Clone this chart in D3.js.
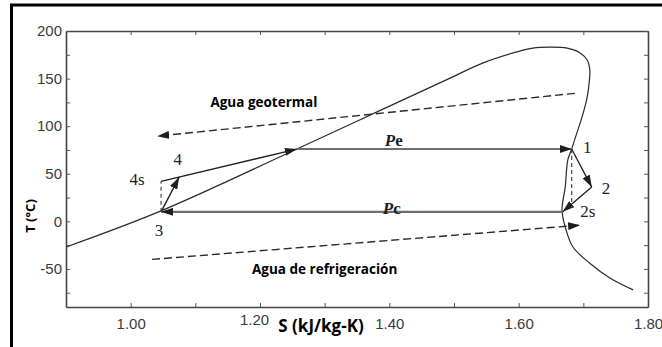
<!DOCTYPE html>
<html>
<head>
<meta charset="utf-8">
<script src="https://cdn.jsdelivr.net/npm/d3@7"></script>
<style>
  body { margin: 0; background: #fff; }
  #chart svg { display: block; }
</style>
</head>
<body>
<div id="chart"></div>
<script>
// saturation dome of the working fluid (s in kJ/kg-K, T in C)
var domeS = [0.90, 1.047, 1.257, 1.381, 1.494, 1.545, 1.597, 1.622, 1.648, 1.675, 1.695, 1.706, 1.710, 1.709, 1.706, 1.698, 1.690, 1.682, 1.676, 1.672, 1.667, 1.672, 1.684, 1.710, 1.741, 1.777];
var domeT = [-27, 11, 76, 115, 150.5, 166.5, 178, 182, 183, 182, 177, 169.5, 159, 145.5, 130.5, 109.5, 93, 76, 64.5, 36, 12, -6, -27, -44, -59.5, -72];

// cycle states ("f" = saturated liquid at Pe, "b" = foot of the 1-2s isentrope)
var stateNames = ["1", "2", "2s", "3", "4s", "4", "f", "b"];
var stateS = [1.682, 1.713, 1.668, 1.047, 1.047, 1.075, 1.257, 1.682];
var stateT = [76, 36, 10, 10, 42, 46.5, 76, 14];

// processes: from, to, kind
var procFrom = ["4s", "3", "f", "1", "2", "2s", "3", "1"];
var procTo   = ["f", "4", "1", "2", "2s", "3", "4s", "b"];
var procKind = ["solid", "solid", "pressure", "solid", "solid", "pressure", "dashed", "dashed"];

// water streams (dashed arrows)
var geoS = [1.687, 1.041];
var geoT = [134.5, 89.5];
var coolS = [1.033, 1.695];
var coolT = [-40, -4];

// ticks
var xTicks = [1.0, 1.1, 1.2, 1.3, 1.4, 1.5, 1.6, 1.7, 1.8];
var xTickLabels = [1.0, 1.2, 1.4, 1.6, 1.8];
var yTicks = [-75, -50, -25, 0, 25, 50, 75, 100, 125, 150, 175, 200];
var yTickLabels = [-50, 0, 50, 100, 150, 200];

function init() {
    var w = 662;
    var h = 347;

    var svg = d3.select("#chart")
                .append("svg")
                .attr("width", w)
                .attr("height", h);

    // outer black frame (cut by the picture edge on right and bottom)
    svg.append("rect")
        .attr("x", 11.5).attr("y", 5)
        .attr("width", 800).attr("height", 500)
        .attr("fill", "none")
        .attr("stroke", "#000")
        .attr("stroke-width", 3);

    var x = d3.scaleLinear().domain([0.9, 1.8]).range([66, 648]);
    var y = d3.scaleLinear().domain([-90, 200]).range([307, 31]);

    var defs = svg.append("defs");
    defs.append("marker")
        .attr("id", "arr")
        .attr("markerUnits", "userSpaceOnUse")
        .attr("viewBox", "0 0 12 8")
        .attr("markerWidth", 12).attr("markerHeight", 8)
        .attr("refX", 12).attr("refY", 4)
        .attr("orient", "auto")
        .append("path")
        .attr("d", "M0,0 L12,4 L0,8 Z")
        .attr("fill", "#1e1e1e");

    // axes, ticks pointing inward on all four sides
    var fmt = d3.format(".2f");
    var xAxisB = d3.axisBottom(x).tickValues(xTicks).tickSizeInner(-4).tickSizeOuter(0).tickPadding(11)
        .tickFormat(function(d) { return xTickLabels.indexOf(d) >= 0 ? fmt(d) : ""; });
    var xAxisT = d3.axisTop(x).tickValues(xTicks).tickSizeInner(-4).tickSizeOuter(0).tickFormat("");
    var yAxisL = d3.axisLeft(y).tickValues(yTicks).tickSizeInner(-4).tickSizeOuter(0).tickPadding(4)
        .tickFormat(function(d) { return yTickLabels.indexOf(d) >= 0 ? d : ""; });
    var yAxisR = d3.axisRight(y).tickValues(yTicks).tickSizeInner(-4).tickSizeOuter(0).tickFormat("");

    var gB = svg.append("g").attr("transform", "translate(0,307)").call(xAxisB);
    svg.append("g").attr("transform", "translate(0,31)").call(xAxisT);
    var gL = svg.append("g").attr("transform", "translate(66,0)").call(yAxisL);
    svg.append("g").attr("transform", "translate(648,0)").call(yAxisR);

    svg.selectAll(".domain").attr("stroke", "#444").attr("stroke-width", 1.6);
    svg.selectAll(".tick line").attr("stroke", "#555").attr("stroke-width", 1);
    svg.selectAll(".tick text")
        .attr("font-family", "'Liberation Sans', Arial, sans-serif")
        .attr("font-size", 15)
        .attr("fill", "#3a3a3a");
    // the 1.20 label sits a bit off in the original, next to the axis title
    gB.selectAll(".tick text").filter(function(d) { return d === 1.2; })
        .attr("transform", "translate(-6,-4)");

    // axis titles
    svg.append("text")
        .text("S (kJ/kg-K)")
        .attr("x", 321).attr("y", 332)
        .attr("text-anchor", "middle")
        .attr("font-family", "'Open Sans', sans-serif")
        .attr("font-weight", "bold")
        .attr("font-size", 17)
        .attr("fill", "#000");
    svg.append("text")
        .text("T (°C)")
        .attr("transform", "translate(35,216) rotate(-90)")
        .attr("text-anchor", "middle")
        .attr("font-family", "'Open Sans', sans-serif")
        .attr("font-weight", "bold")
        .attr("font-size", 13)
        .attr("fill", "#000");

    // saturation dome
    var dome = domeS.map(function(s, i) { return [s, domeT[i]]; });
    var line = d3.line()
        .x(function(d) { return x(d[0]); })
        .y(function(d) { return y(d[1]); })
        .curve(d3.curveCatmullRom.alpha(0.5));
    svg.append("path")
        .datum(dome)
        .attr("d", line)
        .attr("fill", "none")
        .attr("stroke", "#2a2a2a")
        .attr("stroke-width", 1.2);

    // water streams
    var straight = d3.line()
        .x(function(d) { return x(d[0]); })
        .y(function(d) { return y(d[1]); });
    [[geoS, geoT], [coolS, coolT]].forEach(function(st) {
        svg.append("path")
            .datum(st[0].map(function(s, i) { return [s, st[1][i]]; }))
            .attr("d", straight)
            .attr("fill", "none")
            .attr("stroke", "#2a2a2a")
            .attr("stroke-width", 1.4)
            .attr("stroke-dasharray", "8,4")
            .attr("marker-end", "url(#arr)");
    });

    // cycle processes
    function state(name) {
        var i = stateNames.indexOf(name);
        return [stateS[i], stateT[i]];
    }
    procFrom.forEach(function(a, i) {
        var kind = procKind[i];
        var p = svg.append("path")
            .datum([state(a), state(procTo[i])])
            .attr("d", straight)
            .attr("fill", "none");
        if (kind === "pressure") {
            p.attr("stroke", "#6e6e6e").attr("stroke-width", 2.2).attr("marker-end", "url(#arr)");
        } else if (kind === "dashed") {
            p.attr("stroke", "#3a3a3a").attr("stroke-width", 1.1).attr("stroke-dasharray", "4,3");
        } else {
            p.attr("stroke", "#1e1e1e").attr("stroke-width", 1.3).attr("marker-end", "url(#arr)");
        }
    });

    // state labels
    var labelNames = ["1", "2", "2s", "3", "4s", "4"];
    var labelS = [1.706, 1.735, 1.707, 1.044, 1.010, 1.073];
    var labelT = [71.8, 28.7, 4.6, -15.4, 38, 59];
    svg.selectAll("text.state")
        .data(labelNames)
        .enter()
        .append("text")
        .attr("class", "state")
        .text(function(d) { return d; })
        .attr("x", function(d, i) { return x(labelS[i]); })
        .attr("y", function(d, i) { return y(labelT[i]); })
        .attr("text-anchor", "middle")
        .attr("font-family", "'Liberation Serif', 'Times New Roman', serif")
        .attr("font-size", 17)
        .attr("fill", "#1c1c2a");

    // pressure labels
    [["e", 1.393, 79], ["c", 1.390, 8]].forEach(function(d) {
        var t = svg.append("text")
            .attr("x", x(d[1])).attr("y", y(d[2]))
            .attr("font-family", "'Liberation Serif', 'Times New Roman', serif")
            .attr("font-weight", "bold")
            .attr("font-size", 17)
            .attr("fill", "#1c1c2a");
        t.append("tspan").attr("font-style", "italic").text("P");
        t.append("tspan").text(d[0]);
    });

    // stream labels
    svg.append("text")
        .text("Agua geotermal")
        .attr("x", x(1.206)).attr("y", y(120))
        .attr("text-anchor", "middle")
        .attr("font-family", "'Open Sans', sans-serif")
        .attr("font-weight", "bold")
        .attr("font-size", 13.5)
        .attr("fill", "#000");
    svg.append("text")
        .text("Agua de refrigeración")
        .attr("x", x(1.300)).attr("y", y(-55.3))
        .attr("text-anchor", "middle")
        .attr("font-family", "'Open Sans', sans-serif")
        .attr("font-weight", "bold")
        .attr("font-size", 13.5)
        .attr("fill", "#000");
}

window.onload = init;
</script>
</body>
</html>
